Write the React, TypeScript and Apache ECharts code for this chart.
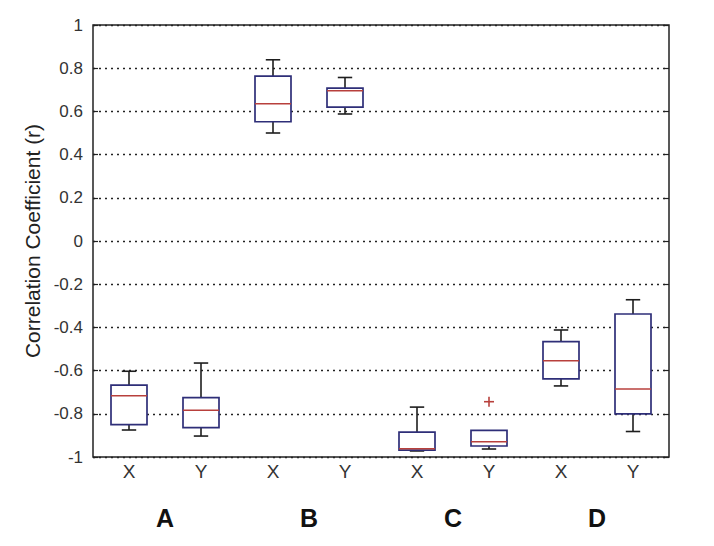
import React, { useEffect, useRef } from "react";
import * as echarts from "echarts";

const categories = ["X", "Y", "X", "Y", "X", "Y", "X", "Y"];
const groups = ["A", "B", "C", "D"];
const lowerWhisker = [-0.875, -0.903, 0.5, 0.588, -0.972, -0.963, -0.671, -0.882];
const q1 = [-0.85, -0.864, 0.552, 0.62, -0.968, -0.949, -0.638, -0.8];
const median = [-0.717, -0.784, 0.635, 0.696, -0.962, -0.929, -0.554, -0.685];
const q3 = [-0.667, -0.725, 0.763, 0.708, -0.885, -0.877, -0.466, -0.338];
const upperWhisker = [-0.603, -0.565, 0.839, 0.757, -0.769, -0.877, -0.412, -0.272];
const outlierIndex = [5];
const outlierValue = [-0.744];
const yTicks = [-1, -0.8, -0.6, -0.4, -0.2, 0, 0.2, 0.4, 0.6, 0.8, 1];

const BOX = "#2e2e78";
const MED = "#b8403c";
const WHISK = "#1e1e1e";
const FONT = "Arial, 'Liberation Sans', sans-serif";

export default function App() {
  const ref = useRef<HTMLDivElement>(null);
  useEffect(() => {
    if (!ref.current) return;
    const chart = echarts.init(ref.current, null, { renderer: "svg" });
    const boxData = categories.map((_, i) => [i, lowerWhisker[i], q1[i], median[i], q3[i], upperWhisker[i]]);
    const outData = outlierIndex.map((idx, k) => [idx, outlierValue[k]]);
    const option: any = {
      animation: false,
      backgroundColor: "#ffffff",
      grid: {
        left: 93,
        right: 45,
        top: 25,
        bottom: 89,
        show: true,
        borderColor: "#222",
        borderWidth: 1.5,
        backgroundColor: "transparent",
      },
      xAxis: [
        {
          type: "category",
          data: categories,
          boundaryGap: true,
          axisLine: { show: false },
          axisTick: { show: false },
          axisLabel: { fontFamily: FONT, fontSize: 19, color: "#333", margin: 5 },
          splitLine: { show: false },
        },
        {
          type: "category",
          data: groups,
          position: "bottom",
          offset: 40,
          boundaryGap: true,
          axisLine: { show: false },
          axisTick: { show: false },
          axisLabel: { fontFamily: FONT, fontSize: 25, fontWeight: "bold", color: "#111", margin: 8 },
          splitLine: { show: false },
        },
      ],
      yAxis: [
        {
          type: "value",
          min: yTicks[0],
          max: yTicks[yTicks.length - 1],
          interval: 0.2,
          name: "Correlation Coefficient (r)",
          nameLocation: "middle",
          nameGap: 44,
          nameTextStyle: { fontFamily: FONT, fontSize: 21, color: "#222" },
          axisLine: { show: false },
          axisTick: { show: true, inside: true, length: 5, lineStyle: { color: "#222", width: 1.2 } },
          axisLabel: {
            fontFamily: FONT,
            fontSize: 17,
            color: "#333",
            margin: 10,
            formatter: (v: number) => String(Math.round(v * 10) / 10),
          },
          splitLine: { show: true, lineStyle: { color: "#222", type: [2, 4], width: 1.3 } },
        },
        {
          type: "value",
          position: "right",
          min: yTicks[0],
          max: yTicks[yTicks.length - 1],
          interval: 0.2,
          axisLine: { show: false },
          axisTick: { show: true, inside: true, length: 5, lineStyle: { color: "#222", width: 1.2 } },
          axisLabel: { show: false },
          splitLine: { show: false },
        },
      ],
      series: [
        {
          type: "custom",
          xAxisIndex: 0,
          yAxisIndex: 0,
          data: boxData,
          renderItem: (params: any, api: any) => {
            const idx = api.value(0);
            const lw = api.value(1), a = api.value(2), m = api.value(3), b = api.value(4), uw = api.value(5);
            const cw = api.size([1, 0])[0];
            const half = cw * 0.25;
            const cap = cw * 0.1;
            const pLw = api.coord([idx, lw]);
            const pA = api.coord([idx, a]);
            const pM = api.coord([idx, m]);
            const pB = api.coord([idx, b]);
            const pUw = api.coord([idx, uw]);
            const x = pA[0];
            const children: any[] = [];
            const wStyle = { stroke: WHISK, lineWidth: 1.6 };
            if (uw !== b) {
              children.push({ type: "line", shape: { x1: x, y1: pB[1], x2: x, y2: pUw[1] }, style: wStyle });
              children.push({ type: "line", shape: { x1: x - cap, y1: pUw[1], x2: x + cap, y2: pUw[1] }, style: wStyle });
            }
            if (lw !== a) {
              children.push({ type: "line", shape: { x1: x, y1: pA[1], x2: x, y2: pLw[1] }, style: wStyle });
              children.push({ type: "line", shape: { x1: x - cap, y1: pLw[1], x2: x + cap, y2: pLw[1] }, style: wStyle });
            }
            children.push({
              type: "rect",
              shape: { x: x - half, y: pB[1], width: half * 2, height: pA[1] - pB[1] },
              style: { fill: "#ffffff", stroke: BOX, lineWidth: 1.7 },
            });
            children.push({
              type: "line",
              shape: { x1: x - half, y1: pM[1], x2: x + half, y2: pM[1] },
              style: { stroke: MED, lineWidth: 1.5 },
            });
            return { type: "group", children };
          },
        },
        {
          type: "custom",
          xAxisIndex: 0,
          yAxisIndex: 0,
          data: outData,
          renderItem: (params: any, api: any) => {
            const p = api.coord([api.value(0), api.value(1)]);
            const s = 5;
            const st = { stroke: MED, lineWidth: 1.6 };
            return {
              type: "group",
              children: [
                { type: "line", shape: { x1: p[0] - s, y1: p[1], x2: p[0] + s, y2: p[1] }, style: st },
                { type: "line", shape: { x1: p[0], y1: p[1] - s, x2: p[0], y2: p[1] + s }, style: st },
              ],
            };
          },
        },
      ],
    };
    chart.setOption(option);
    return () => chart.dispose();
  }, []);
  return <div ref={ref} style={{ width: 714, height: 546, position: "absolute", left: 0, top: 0 }} />;
}
